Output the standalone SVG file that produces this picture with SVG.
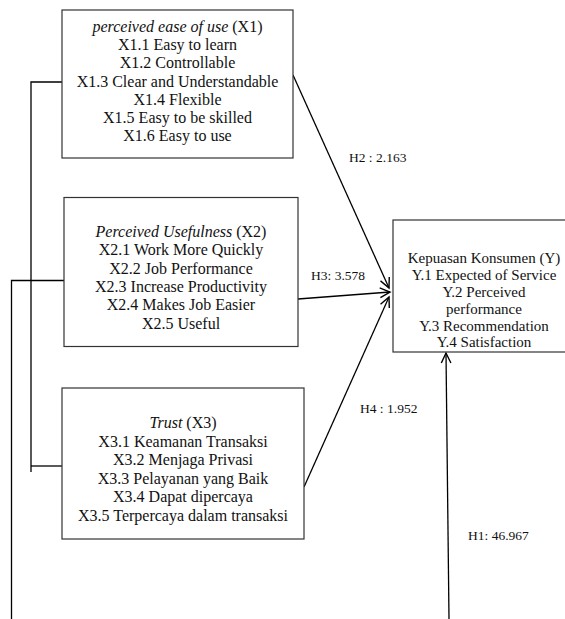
<svg xmlns="http://www.w3.org/2000/svg" width="565" height="619" viewBox="0 0 565 619">
<style>
.box{fill:#fff;stroke:#333;stroke-width:1.2}
.t{font-family:"Liberation Serif","Times New Roman",serif;font-size:16px;fill:#111;text-anchor:middle}
.ty{font-family:"Liberation Serif","Times New Roman",serif;font-size:15px;fill:#111;text-anchor:middle}
.lbl{font-family:"Liberation Serif","Times New Roman",serif;font-size:13.5px;fill:#111}
.ln{fill:none;stroke:#000;stroke-width:1.3}
</style>
<defs>
<marker id="arr" markerUnits="userSpaceOnUse" markerWidth="14" markerHeight="14" refX="12" refY="7" orient="auto" overflow="visible">
<path d="M2,2.2 L12,7 L2,11.8" fill="none" stroke="#000" stroke-width="1.4"/>
</marker>
</defs>
<g id="connectors">
<path class="ln" d="M62,82 H31 V472"/>
<path class="ln" d="M31,466 H62"/>
<path class="ln" d="M64,280.5 H11.5 V619"/>
<line class="ln" x1="293" y1="75" x2="389" y2="288" marker-end="url(#arr)"/>
<line class="ln" x1="298" y1="299" x2="390" y2="292" marker-end="url(#arr)"/>
<line class="ln" x1="304" y1="487" x2="389" y2="297" marker-end="url(#arr)"/>
<line class="ln" x1="449" y1="619" x2="446" y2="353" marker-end="url(#arr)"/>
<text class="lbl" x="349" y="162">H2 : 2.163</text>
<text class="lbl" x="311" y="280">H3: 3.578</text>
<text class="lbl" x="360" y="413">H4 : 1.952</text>
<text class="lbl" x="468" y="540">H1: 46.967</text>
</g>
<g id="x1">
<rect class="box" x="62" y="10" width="231" height="148"/>
<text class="t" x="177.5" y="32"><tspan font-style="italic">perceived ease of use</tspan> (X1)</text>
<text class="t" x="177.5" y="50">X1.1 Easy to learn</text>
<text class="t" x="177.5" y="68">X1.2 Controllable</text>
<text class="t" x="177.5" y="86.5">X1.3 Clear and Understandable</text>
<text class="t" x="177.5" y="104.5">X1.4 Flexible</text>
<text class="t" x="177.5" y="122.5">X1.5 Easy to be skilled</text>
<text class="t" x="177.5" y="141">X1.6 Easy to use</text>
</g>
<g id="x2">
<rect class="box" x="64" y="197.5" width="234" height="149"/>
<text class="t" x="181" y="237"><tspan font-style="italic">Perceived Usefulness</tspan> (X2)</text>
<text class="t" x="181" y="255">X2.1 Work More Quickly</text>
<text class="t" x="181" y="273.5">X2.2 Job Performance</text>
<text class="t" x="181" y="292">X2.3 Increase Productivity</text>
<text class="t" x="181" y="310">X2.4 Makes Job Easier</text>
<text class="t" x="181" y="328.5">X2.5 Useful</text>
</g>
<g id="x3">
<rect class="box" x="62" y="388" width="242" height="151"/>
<text class="t" x="183" y="428"><tspan font-style="italic">Trust</tspan> (X3)</text>
<text class="t" x="183" y="447">X3.1 Keamanan Transaksi</text>
<text class="t" x="183" y="465">X3.2 Menjaga Privasi</text>
<text class="t" x="183" y="483.5">X3.3 Pelayanan yang Baik</text>
<text class="t" x="183" y="502">X3.4 Dapat dipercaya</text>
<text class="t" x="183" y="520.5">X3.5 Terpercaya dalam transaksi</text>
</g>
<g id="y">
<rect class="box" x="393" y="220" width="182" height="132"/>
<text class="ty" x="484" y="263">Kepuasan Konsumen (Y)</text>
<text class="ty" x="484" y="280">Y.1 Expected of Service</text>
<text class="ty" x="484" y="297">Y.2 Perceived</text>
<text class="ty" x="484" y="313.5">performance</text>
<text class="ty" x="484" y="330.5">Y.3 Recommendation</text>
<text class="ty" x="484" y="347">Y.4 Satisfaction</text>
</g>
</svg>
